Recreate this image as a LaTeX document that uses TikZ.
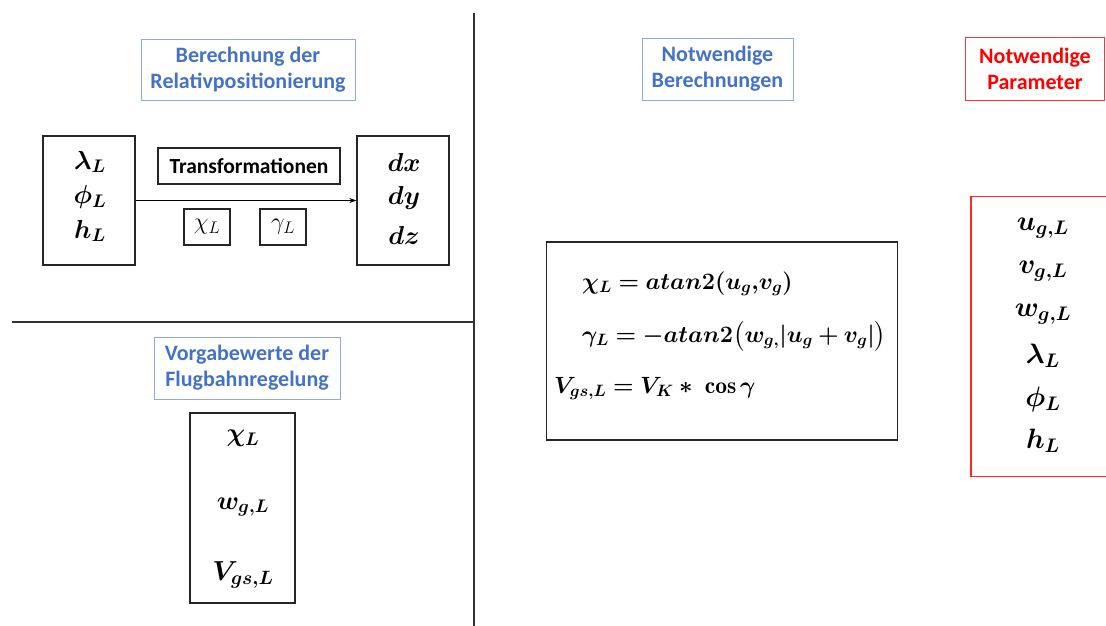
\RequirePackage{fix-cm}
\documentclass[tikz,border=0pt]{standalone}
\usepackage{amsmath,bm}
\usepackage{fontspec}
\newfontfamily\lblfont{Carlito}
\usetikzlibrary{arrows.meta}
\definecolor{lblblue}{HTML}{4472C4}
\definecolor{lblframe}{HTML}{8EA9DB}
\definecolor{pred}{HTML}{FF0000}
\tikzset{
  lbl/.style={draw=lblframe, line width=0.9pt, text=lblblue, align=center, inner sep=0pt,
    font=\lblfont\bfseries\fontsize{22}{26}\selectfont},
  rlbl/.style={lbl, draw=pred!80, text=pred},
  bbox/.style={draw=black!85, line width=1.3pt, inner sep=0pt},
  rbox/.style={draw=pred!85, line width=1.3pt, inner sep=0pt},
  mbig/.style={inner sep=0pt, font=\fontsize{26}{30}\selectfont},
  mmid/.style={inner sep=0pt, font=\fontsize{23.5}{28}\selectfont},
  mpar/.style={inner sep=0pt, font=\fontsize{28}{32}\selectfont},
  sep/.style={draw=black!80, line width=1.6pt},
}
\begin{document}
\begin{tikzpicture}[x=1pt,y=-1pt]
\useasboundingbox (0,0) rectangle (1106,626);
\clip (0,0) rectangle (1106,626);
% separators
\coordinate (vtop) at (474,13);
\coordinate (vbot) at (474,626);
\coordinate (hl) at (12,322);
\coordinate (hr) at (474,322);
\draw[sep] (vtop) -- (vbot);
\draw[sep] (hl) -- (hr);

% --- top left panel
\node[lbl, minimum width=214, minimum height=61] (lab1) at (248,69.5) {Berechnung der\\Relativpositionierung};
\node[bbox, minimum width=92, minimum height=129] (lbox) at (89,200.5) {};
\node[bbox, minimum width=92, minimum height=129] (rbx) at (403,200.5) {};
\node[mbig] (lam) at (90,162) {$\bm{\lambda_L}$};
\node[mbig] (phi) at (90,197) {$\bm{\phi_L}$};
\node[mbig] (hh) at (90,231) {$\bm{h_L}$};
\node[mbig] (dx) at (404,162) {$\bm{dx}$};
\node[mbig] (dy) at (404,198) {$\bm{dy}$};
\node[mbig] (dz) at (404,235) {$\bm{dz}$};
\node[bbox, line width=1.1pt, minimum width=182, minimum height=36, font=\lblfont\bfseries\fontsize{21.5}{24}\selectfont] (trans) at (249,166) {Transformationen};
\node[bbox, line width=1.1pt, minimum width=46, minimum height=36, font=\fontsize{24}{28}\selectfont] (chib) at (207,227) {$\chi_L$};
\node[bbox, line width=1.1pt, minimum width=46, minimum height=36, font=\fontsize{24}{28}\selectfont] (gamb) at (283,227) {$\gamma_L$};
\draw[line width=1.1pt, -{Stealth[length=7pt,width=5pt]}] (lbox.east) -- (rbx.west);

% --- bottom left panel
\node[lbl, minimum width=186, minimum height=62] (lab2) at (247,368) {Vorgabewerte der\\Flugbahnregelung};
\node[bbox, minimum width=105, minimum height=190] (vbox) at (242.5,508) {};
\node[mbig] (v1) at (243,438) {$\bm{\chi_L}$};
\node[mbig] (v2) at (243,507) {$\bm{w_{g,L}}$};
\node[mbig, font=\fontsize{27.5}{32}\selectfont] (v3) at (243,575) {$\bm{V_{gs,L}}$};

% --- middle panel
\node[lbl, minimum width=151, minimum height=62] (lab3) at (717.5,69) {Notwendige\\Berechnungen};
\node[bbox, minimum width=351, minimum height=198] (fbox) at (722,341) {};
\node[mmid, anchor=base west] (f1) at (582,289) {$\bm{\chi_L = atan2(u_g{,}v_g)}$};
\node[mmid, anchor=base west] (f2) at (582,342) {$\bm{\gamma_L = -atan2\bigl(w_{g,}|u_g+v_g|\bigr)}$};
\node[mmid, anchor=base west] (f3) at (554,393) {$\bm{V_{gs,L} = V_K *\ \cos\gamma}$};

% --- right panel
\node[rlbl, minimum width=139, minimum height=63] (lab4) at (1035,69) {Notwendige\\Parameter};
\node[rbox, minimum width=144, minimum height=280] (pbox) at (1043,336.5) {};
\node[mpar] (p1) at (1043,228) {$\bm{u_{g,L}}$};
\node[mpar] (p2) at (1043,271) {$\bm{v_{g,L}}$};
\node[mpar] (p3) at (1043,314) {$\bm{w_{g,L}}$};
\node[mpar] (p4) at (1043,356) {$\bm{\lambda_L}$};
\node[mpar] (p5) at (1043,399) {$\bm{\phi_L}$};
\node[mpar] (p6) at (1043,441) {$\bm{h_L}$};
\end{tikzpicture}
\end{document}
